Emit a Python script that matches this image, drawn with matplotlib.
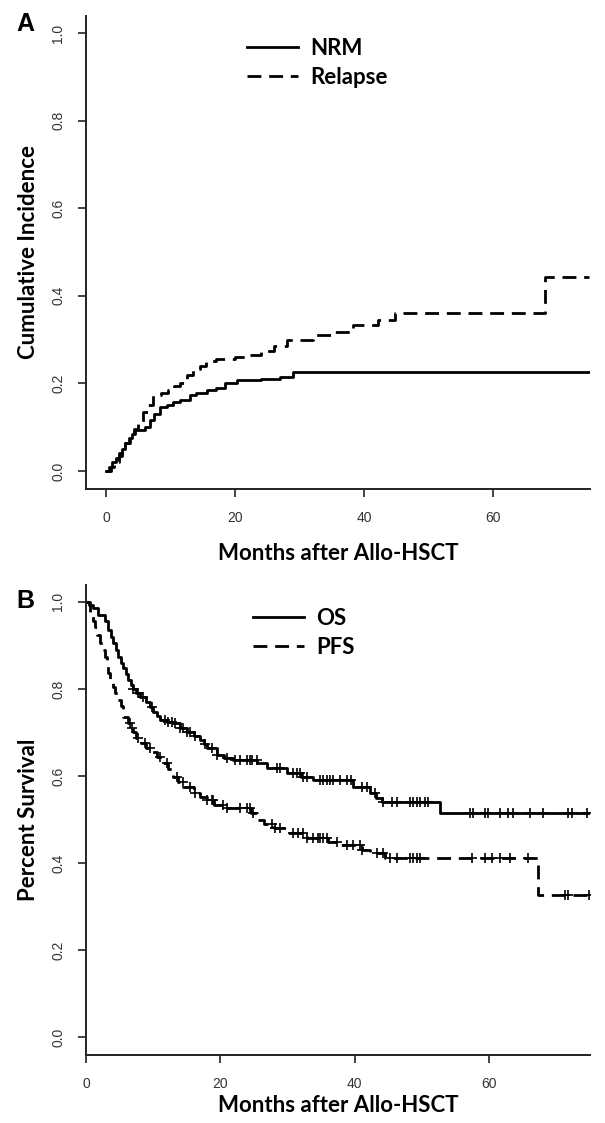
import numpy as np
import matplotlib
matplotlib.use("Agg")
import matplotlib.pyplot as plt
from matplotlib.lines import Line2D

# ---------------- Data ----------------
# Panel A: cumulative incidence step functions
nrm_t = [0, 0.5, 1.0, 1.5, 2.0, 2.5, 3.0, 3.5, 4.0, 4.5, 6.0, 6.8, 7.5, 8.4, 9.5,
         10.4, 11.5, 13.0, 14.0, 15.6, 17.0, 18.4, 20.3, 24.0, 27.0, 29.0]
nrm_v = [0, 0.01, 0.02, 0.03, 0.04, 0.05, 0.065, 0.075, 0.085, 0.093, 0.10, 0.116, 0.13,
         0.145, 0.15, 0.157, 0.163, 0.173, 0.178, 0.184, 0.19, 0.20, 0.207, 0.21, 0.215, 0.225]
rel_t = [0, 0.7, 1.3, 2.0, 2.5, 3.0, 3.7, 4.3, 5.0, 5.8, 6.5, 7.3, 8.5, 9.6, 10.5, 11.5,
         12.5, 13.5, 14.6, 15.5, 17.0, 20.0, 22.0, 24.0, 26.0, 28.0, 32.0, 35.0, 38.3,
         42.2, 44.8, 68.1]
rel_v = [0, 0.01, 0.02, 0.035, 0.05, 0.065, 0.082, 0.095, 0.11, 0.134, 0.15, 0.173, 0.178,
         0.184, 0.193, 0.202, 0.22, 0.232, 0.24, 0.25, 0.255, 0.26, 0.265, 0.275, 0.285,
         0.30, 0.31, 0.318, 0.334, 0.345, 0.361, 0.443]
end_a = 74.8

# Panel B: Kaplan-Meier survival
os_t = [0, 0.5, 1.0, 1.8, 2.9, 3.3, 3.7, 4.0, 4.4, 4.8, 5.2, 5.5, 5.9, 6.3, 6.7, 7.0, 7.5,
        8.0, 9.0, 9.5, 10.0, 10.5, 11.0, 12.0, 13.0, 14.0, 15.0, 16.0, 17.0, 17.5, 18.0,
        19.5, 20.5, 21.9, 25.5, 26.9, 29.9, 32.0, 33.8, 39.7, 42.3, 43.2, 44.0, 52.7]
os_v = [1.0, 0.993, 0.986, 0.970, 0.955, 0.936, 0.920, 0.906, 0.890, 0.873, 0.860, 0.848,
        0.835, 0.820, 0.810, 0.800, 0.790, 0.782, 0.770, 0.758, 0.747, 0.738, 0.729, 0.725,
        0.722, 0.710, 0.700, 0.692, 0.683, 0.673, 0.664, 0.648, 0.642, 0.637, 0.630, 0.618,
        0.607, 0.598, 0.590, 0.575, 0.561, 0.550, 0.540, 0.515]
os_cens = [7.0, 7.7, 8.5, 9.8, 11.8, 12.2, 12.8, 13.2, 14.0, 14.4, 15.0, 15.5, 16.2, 17.7,
           18.8, 19.5, 21.0, 22.2, 22.9, 24.0, 24.4, 24.7, 25.4, 28.4, 28.9, 30.8, 31.4,
           31.8, 32.3, 32.9, 34.8, 35.3, 35.9, 36.3, 36.8, 37.8, 38.8, 39.5, 41.1, 41.8,
           43.0, 44.2, 45.5, 46.3, 48.2, 48.7, 49.3, 49.7, 50.4, 50.9, 57.1, 57.6, 59.4,
           59.8, 61.6, 62.8, 63.5, 66.1, 68.0, 71.7, 72.3, 74.6]
pfs_t = [0, 0.6, 1.0, 1.3, 1.7, 2.1, 2.5, 2.8, 3.1, 3.3, 3.6, 4.0, 4.3, 4.8, 5.2, 5.5, 6.3,
         6.7, 7.0, 7.5, 8.0, 9.0, 9.8, 10.5, 11.5, 12.2, 13.0, 13.7, 14.5, 16.0, 17.0, 18.0,
         19.0, 21.0, 24.5, 25.5, 26.5, 28.0, 29.9, 32.9, 36.0, 38.0, 41.0, 42.3, 44.5, 67.3]
pfs_v = [1.0, 0.970, 0.957, 0.943, 0.925, 0.906, 0.890, 0.874, 0.855, 0.837, 0.820, 0.805,
         0.790, 0.775, 0.760, 0.736, 0.722, 0.710, 0.700, 0.688, 0.676, 0.664, 0.654, 0.644,
         0.630, 0.615, 0.598, 0.587, 0.575, 0.561, 0.552, 0.545, 0.533, 0.527, 0.515, 0.500,
         0.490, 0.480, 0.469, 0.457, 0.449, 0.441, 0.430, 0.423, 0.412, 0.326]
pfs_cens = [6.5, 6.8, 7.7, 8.8, 9.5, 11.0, 12.1, 13.5, 14.4, 15.5, 16.2, 18.0, 18.8, 18.9,
            20.4, 21.0, 22.9, 24.0, 24.4, 24.9, 27.7, 28.1, 28.9, 30.8, 31.5, 32.3, 32.9,
            33.8, 34.5, 34.8, 35.3, 35.9, 37.4, 38.8, 39.7, 40.8, 41.1, 43.3, 44.2, 45.2,
            46.3, 48.2, 48.7, 49.3, 49.7, 57.4, 59.4, 60.4, 61.6, 63.1, 65.8, 71.3, 71.7,
            74.8]
end_b = 74.8

y_ticks = [0.0, 0.2, 0.4, 0.6, 0.8, 1.0]
y_ticklabels = ["0.0", "0.2", "0.4", "0.6", "0.8", "1.0"]
x_ticks = [0, 20, 40, 60]
x_label = "Months after Allo-HSCT"

# ---------------- Style ----------------
W, H = 605, 1123
fig = plt.figure(figsize=(W / 100, H / 100), dpi=100)
LABEL_FONT = ["Lato", "DejaVu Sans"]
TICK_FONT = ["Liberation Sans", "DejaVu Sans"]
LW = 2.0
DASH = (0, (5.0, 2.8))
TICKCOL = "#333333"
LABEL_SIZE = 16
LEG_SIZE = 16


def style_axes(ax, xlim, ylim, xpad):
    ax.set_xlim(*xlim)
    ax.set_ylim(*ylim)
    for s in ("top", "right"):
        ax.spines[s].set_visible(False)
    for s in ("left", "bottom"):
        ax.spines[s].set_linewidth(1.4)
        ax.spines[s].set_color("#222222")
    ax.set_xticks(x_ticks)
    ax.set_xticklabels([str(t) for t in x_ticks], fontfamily=TICK_FONT, fontsize=10,
                       color=TICKCOL)
    ax.set_yticks(y_ticks)
    ax.set_yticklabels(y_ticklabels, fontfamily=TICK_FONT, fontsize=10, color=TICKCOL,
                       rotation=90, va="center")
    ax.tick_params(axis="both", direction="out", length=6, width=1.2, color="#222222")
    ax.tick_params(axis="x", pad=10)
    ax.tick_params(axis="y", pad=9)
    ax.set_xlabel(x_label, fontfamily=LABEL_FONT, fontweight="bold", fontsize=LABEL_SIZE,
                  labelpad=xpad)


def step_line(ax, t, v, end, **kw):
    tt = list(t) + [end]
    vv = list(v) + [v[-1]]
    ax.step(tt, vv, where="post", color="black", lw=LW, **kw)


def censor(ax, t, v, ct):
    t = np.asarray(t)
    v = np.asarray(v)
    idx = np.searchsorted(t, np.asarray(ct), side="right") - 1
    ax.plot(ct, v[idx], ls="none", marker="+", color="black", ms=7.5, mew=1.2)


def add_legend(ax, labels, left_px, top_px):
    handles = [Line2D([], [], color="black", lw=LW),
               Line2D([], [], color="black", lw=LW, linestyle=DASH)]
    ax.legend(handles, labels, loc="upper left",
              bbox_to_anchor=(left_px / W, 1 - top_px / H),
              bbox_transform=fig.transFigure, frameon=False, borderpad=0,
              borderaxespad=0, handlelength=2.3, handletextpad=0.55, labelspacing=0.35,
              prop={"family": LABEL_FONT, "weight": "bold", "size": LEG_SIZE})


# Panel A
axA = fig.add_axes([86 / W, 1 - 488.5 / H, (590 - 86) / W, (488.5 - 15.5) / H])
style_axes(axA, (-3.1, 75.0), (-0.04, 1.04), xpad=13)
step_line(axA, nrm_t, nrm_v, end_a)
step_line(axA, rel_t, rel_v, end_a, linestyle=DASH)
axA.set_ylabel("Cumulative Incidence", fontfamily=LABEL_FONT, fontweight="bold",
               fontsize=LABEL_SIZE, labelpad=9)
add_legend(axA, ["NRM", "Relapse"], 247, 38)

# Panel B
axB = fig.add_axes([86 / W, 1 - 1054.5 / H, (590 - 86) / W, (1054.5 - 584.5) / H])
style_axes(axB, (0, 75.0), (-0.04, 1.04), xpad=3)
step_line(axB, os_t, os_v, end_b)
step_line(axB, pfs_t, pfs_v, end_b, linestyle=DASH)
censor(axB, os_t, os_v, os_cens)
censor(axB, pfs_t, pfs_v, pfs_cens)
axB.set_ylabel("Percent Survival", fontfamily=LABEL_FONT, fontweight="bold",
               fontsize=LABEL_SIZE, labelpad=9)
add_legend(axB, ["OS", "PFS"], 253, 608)

fig.text(25 / W, 1 - 24 / H, "A", fontfamily=TICK_FONT, fontweight="bold", fontsize=18,
         va="center", ha="center")
fig.text(25 / W, 1 - 601 / H, "B", fontfamily=TICK_FONT, fontweight="bold", fontsize=18,
         va="center", ha="center")

fig.savefig("out.png", dpi=100, facecolor="white")
